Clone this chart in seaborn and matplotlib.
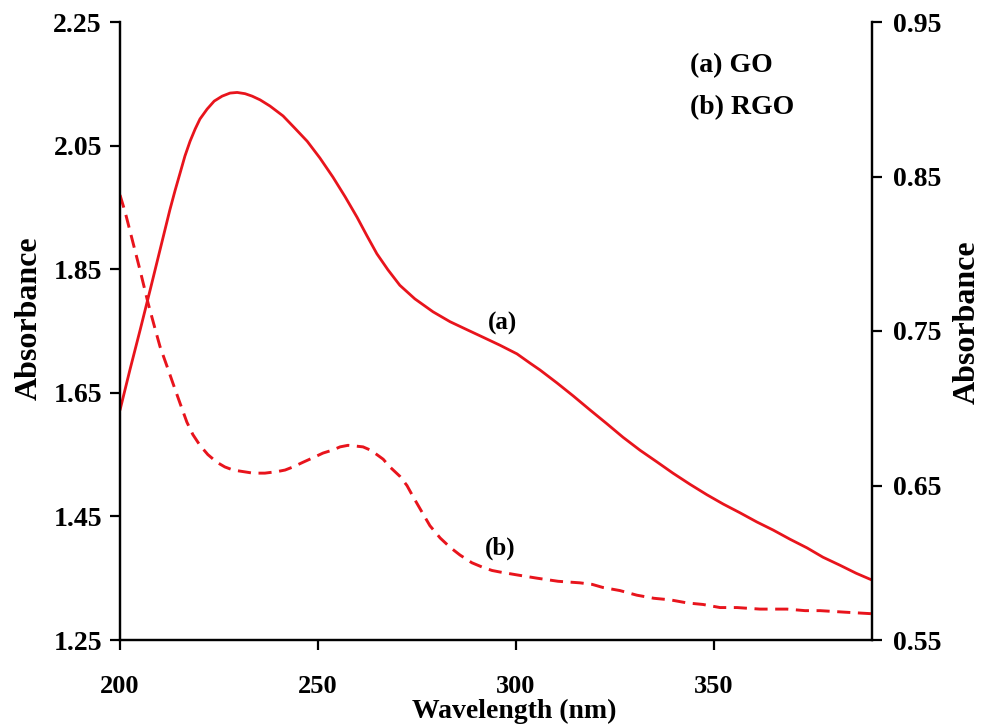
import numpy as np
import pandas as pd
import matplotlib
matplotlib.use("Agg")
import matplotlib.pyplot as plt
import seaborn as sns

# GO (solid, left axis)
go_wl = [200.0, 202.5, 205.1, 207.6, 210.1, 212.6, 213.9, 215.2, 216.4, 217.7,
         219.0, 220.2, 222.0, 223.8, 225.8, 227.8, 229.6, 231.6, 233.4, 235.4,
         237.9, 241.2, 244.2, 247.3, 250.5, 253.8, 256.9, 259.9, 262.4, 264.9,
         267.7, 270.7, 274.5, 279.1, 283.4, 287.7, 291.7, 296.0, 300.3, 303.6,
         306.1, 310.4, 314.5, 318.8, 323.0, 327.1, 331.4, 335.7, 339.7, 344.0,
         348.3, 352.4, 356.6, 360.9, 365.0, 369.3, 373.6, 377.6, 381.9, 386.0,
         390.0]
go_abs = [1.622, 1.687, 1.752, 1.816, 1.881, 1.946, 1.977, 2.006, 2.033, 2.057,
          2.077, 2.093, 2.109, 2.122, 2.130, 2.135, 2.136, 2.134, 2.130, 2.124,
          2.114, 2.098, 2.078, 2.057, 2.030, 1.999, 1.967, 1.934, 1.904, 1.875,
          1.849, 1.824, 1.802, 1.781, 1.765, 1.752, 1.740, 1.727, 1.713, 1.698,
          1.687, 1.666, 1.645, 1.622, 1.600, 1.578, 1.557, 1.538, 1.520, 1.502,
          1.485, 1.470, 1.456, 1.441, 1.428, 1.413, 1.399, 1.384, 1.371, 1.358,
          1.347]

# RGO (dashed, right axis)
rgo_wl = [200.0, 201.3, 202.5, 203.8, 205.1, 207.1, 208.8, 210.1, 211.9, 213.4,
          215.2, 216.9, 218.4, 220.2, 222.2, 224.5, 226.5, 228.6, 231.1, 233.6,
          236.6, 239.7, 241.7, 243.7, 246.2, 248.8, 251.3, 253.8, 255.6, 257.6,
          259.6, 261.4, 263.2, 264.9, 266.5, 268.2, 270.7, 272.5, 274.0, 275.8,
          278.3, 280.9, 283.4, 285.9, 288.9, 291.7, 294.0, 296.0, 300.6, 305.4,
          310.7, 316.2, 319.3, 322.0, 326.3, 330.6, 334.9, 339.0, 343.3, 347.3,
          351.6, 355.9, 361.7, 368.5, 373.1, 376.9, 383.2, 390.0]
rgo_abs = [0.838, 0.827, 0.815, 0.802, 0.789, 0.768, 0.752, 0.740, 0.727, 0.716,
           0.703, 0.691, 0.683, 0.676, 0.670, 0.665, 0.662, 0.660, 0.659, 0.658,
           0.658, 0.659, 0.660, 0.662, 0.665, 0.668, 0.671, 0.673, 0.675, 0.676,
           0.6755, 0.675, 0.673, 0.670, 0.667, 0.662, 0.656, 0.650, 0.643, 0.635,
           0.624, 0.616, 0.610, 0.605, 0.600, 0.597, 0.595, 0.594, 0.592, 0.590,
           0.588, 0.587, 0.586, 0.584, 0.582, 0.579, 0.577, 0.576, 0.574, 0.573,
           0.571, 0.571, 0.570, 0.570, 0.569, 0.569, 0.568, 0.567]

x_ticks = [200, 250, 300, 350]
left_ticks = [1.25, 1.45, 1.65, 1.85, 2.05, 2.25]
right_ticks = [0.55, 0.65, 0.75, 0.85, 0.95]
legend_lines = ["(a) GO", "(b) RGO"]

sns.set_style("ticks")
plt.rcParams['font.family'] = ['Liberation Serif', 'DejaVu Serif']
plt.rcParams['font.weight'] = 'bold'
plt.rcParams['text.color'] = 'black'
plt.rcParams['axes.labelcolor'] = 'black'

fig = plt.figure(figsize=(9.89, 7.26), dpi=100)
ax = fig.add_axes([120/989, 86/726, 752/989, 618/726])
ax2 = ax.twinx()

red = '#e8141c'
go_df = pd.DataFrame({"wl": go_wl, "abs": go_abs})
rgo_df = pd.DataFrame({"wl": rgo_wl, "abs": rgo_abs})
sns.lineplot(data=go_df, x="wl", y="abs", ax=ax, color=red, linewidth=2.0, sort=False)
sns.lineplot(data=rgo_df, x="wl", y="abs", ax=ax2, color=red, linewidth=2.1,
             sort=False, linestyle=(0, (4.5, 2.6)))

ax.set_xlim(200, 390)
ax.set_ylim(1.25, 2.25)
ax2.set_ylim(0.55, 0.95)
ax.set_xticks(x_ticks)
ax.set_yticks(left_ticks)
ax.set_yticklabels([f"{t:.2f}" for t in left_ticks])
ax2.set_yticks(right_ticks)
ax2.set_yticklabels([f"{t:.2f}" for t in right_ticks])

for a in (ax, ax2):
    for s in a.spines.values():
        s.set_linewidth(1.6)
        s.set_color('black')
    a.spines['top'].set_visible(False)
    a.tick_params(width=1.6, length=7, labelsize=20, colors='black', direction='out')
ax.tick_params(axis='x', pad=18, labelsize=19)
ax.tick_params(axis='y', pad=6)
ax2.tick_params(axis='y', pad=8)

for lab in ax.get_xticklabels() + ax.get_yticklabels() + ax2.get_yticklabels():
    lab.set_fontweight('bold')

ax.set_xlabel("Wavelength (nm)", fontsize=20, fontweight='bold', color='black')
ax.set_ylabel("Absorbance", fontsize=23, fontweight='bold', color='black')
ax2.set_ylabel("Absorbance", fontsize=23, fontweight='bold', color='black')
ax.xaxis.set_label_coords(0.524, -0.095)
ax.yaxis.set_label_coords(-0.101, 0.52)
ax2.yaxis.set_label_coords(1.108, 0.515)

ax.text(0.758, 0.930, legend_lines[0], transform=ax.transAxes, fontsize=20,
        fontweight='bold', ha='left', va='center', color='black')
ax.text(0.758, 0.861, legend_lines[1], transform=ax.transAxes, fontsize=20,
        fontweight='bold', ha='left', va='center', color='black')
ax.text(296.7, 1.763, "(a)", fontsize=18, fontweight='bold', ha='center',
        va='center', color='black')
ax.text(296.0, 1.399, "(b)", fontsize=18, fontweight='bold', ha='center',
        va='center', color='black')

fig.savefig("out.png", dpi=100)
